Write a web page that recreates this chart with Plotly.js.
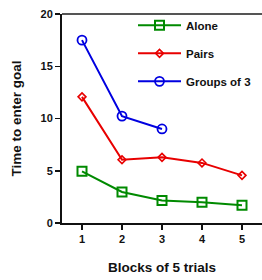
<!DOCTYPE html>
<html><head><meta charset="utf-8">
<script src="https://cdn.plot.ly/plotly-3.0.1.min.js"></script>
<style>html,body{margin:0;padding:0;background:#fff}#c{width:262px;height:280px}</style>
</head><body><div id="c"></div>
<script>
const blocks = [1, 2, 3, 4, 5];
const alone = [4.95, 2.97, 2.15, 1.98, 1.7];
const pairs = [12.07, 6.05, 6.28, 5.75, 4.56];
const groupBlocks = [1, 2, 3];
const groups3 = [17.5, 10.23, 9.0];
const seriesNames = ["Alone", "Pairs", "Groups of 3"];
const tickVals = [0, 5, 10, 15, 20];

const font = {family: "Liberation Sans, Arial, sans-serif", color: "#111"};
const traces = [
  {x: blocks, y: alone, name: seriesNames[0], mode: "lines+markers", legendgroup: "a",
   line: {color: "#008a00", width: 2}, marker: {symbol: "square-open", size: 9, color: "#008a00", line: {width: 2}}},
  {x: blocks, y: pairs, name: seriesNames[1], mode: "lines+markers", legendgroup: "b",
   line: {color: "#e80000", width: 2}, marker: {symbol: "diamond-open", size: 6, color: "#e80000", line: {width: 1.6}}},
  {x: groupBlocks, y: groups3, name: seriesNames[2], mode: "lines+markers", legendgroup: "c",
   line: {color: "#0000e0", width: 2}, marker: {symbol: "circle-open", size: 9, color: "#0000e0", line: {width: 1.8}}}
];
const layout = {
  width: 262, height: 280,
  margin: {l: 62, r: 0, t: 14, b: 57},
  paper_bgcolor: "#fff", plot_bgcolor: "#fff",
  showlegend: true,
  legend: {x: 0.355, y: 1.015, xanchor: "left", yanchor: "top", bgcolor: "rgba(0,0,0,0)",
    font: Object.assign({}, font, {size: 11.5, weight: "bold"}), tracegroupgap: 9, itemwidth: 43},
  xaxis: {range: [0.5, 5.5], tickvals: blocks, ticks: "outside", ticklen: 5, tickwidth: 1.5, tickcolor: "#111",
    showline: true, linecolor: "#111", linewidth: 2, showgrid: false, zeroline: false,
    tickfont: Object.assign({}, font, {size: 11, weight: "bold"}),
    title: {text: "Blocks of 5 trials", font: Object.assign({}, font, {size: 13.5, weight: "bold"}), standoff: 18}},
  yaxis: {range: [0, 20], tickvals: tickVals, ticks: "outside", ticklen: 5, tickwidth: 1.5, tickcolor: "#111",
    showline: true, linecolor: "#111", linewidth: 2, showgrid: false, zeroline: false,
    tickfont: Object.assign({}, font, {size: 11, weight: "bold"}),
    title: {text: "Time to enter goal", font: Object.assign({}, font, {size: 13.5, weight: "bold"}), standoff: 16}},
  shapes: [{type: "line", xref: "paper", yref: "paper", x0: 0, x1: 1, y0: 1, y1: 1, line: {color: "#555", width: 2}}]
};
Plotly.newPlot("c", traces, layout, {displayModeBar: false, staticPlot: true});
</script></body></html>
